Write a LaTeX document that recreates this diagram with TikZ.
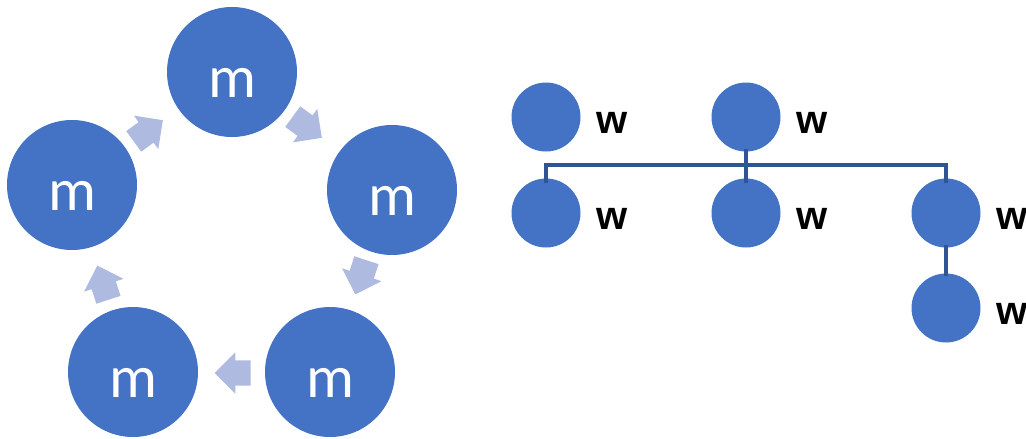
\documentclass[tikz,border=0pt]{standalone}
\usepackage{fontspec}
\setmainfont{Carlito}
\newfontfamily\wfont{Liberation Sans}
\usetikzlibrary{shapes.arrows,positioning}

\definecolor{dotblue}{RGB}{68,114,196}
\definecolor{arrowblue}{RGB}{174,186,223}
\definecolor{lineblue}{RGB}{47,85,151}

\tikzset{
  bigdot/.style={circle, fill=dotblue, minimum size=130pt, inner sep=0pt,
    text=white, font=\fontsize{60}{60}\selectfont, text height=50pt, text depth=0pt},
  smalldot/.style={circle, fill=dotblue, minimum size=69pt, inner sep=0pt},
  wlabel/.style={font=\wfont\bfseries\fontsize{40}{40}\selectfont, inner sep=0pt, anchor=west},
  turn/.style={single arrow, fill=arrowblue, minimum height=36pt, inner xsep=1pt,
    inner ysep=12.5pt, single arrow head extend=8pt, rotate=#1, xshift=-6pt},
  link/.style={draw=lineblue, line width=3.2pt}
}

\begin{document}
\begin{tikzpicture}[x=1pt, y=-1pt]

	\useasboundingbox (0,0) rectangle (1026,439);

	% ring
	\node [bigdot] (mtop) at (232, 72) {m};
	\node [bigdot] (mright) at (392, 190) {m};
	\node [bigdot] (mlowright) at (330, 372) {m};
	\node [bigdot] (mlowleft) at (133, 372) {m};
	\node [bigdot] (mleft) at (72, 185) {m};

	\node [turn=-36] (a1) at (307, 127) {};
	\node [turn=-108] (a2) at (361, 277) {};
	\node [turn=180] (a3) at (233, 373) {};
	\node [turn=108] (a4) at (103, 283) {};
	\node [turn=36] (a5) at (148, 131) {};

	% tree
	\node [smalldot] (w1) at (546, 117) {};
	\node [smalldot] (w2) at (746, 117) {};
	\node [smalldot] (w3) at (546, 213) {};
	\node [smalldot] (w4) at (746, 213) {};
	\node [smalldot] (w5) at (946, 213) {};
	\node [smalldot] (w6) at (946, 308) {};

	\foreach \n in {1,...,6}
		\node [wlabel, right=16pt of w\n.east, yshift=-6pt] (l\n) {w};

	\coordinate (bar) at (0, 165);
	\draw [link] ([yshift=3pt]w2.south) -- (w2 |- bar);
	\draw [link] ([yshift=-5pt]w3.north) |- (bar -| w5) -- ([yshift=-5pt]w5.north);
	\draw [link] (w4 |- bar) -- ([yshift=-5pt]w4.north);
	\draw [link] ([yshift=3pt]w5.south) -- ([yshift=-3pt]w6.north);

\end{tikzpicture}
\end{document}
